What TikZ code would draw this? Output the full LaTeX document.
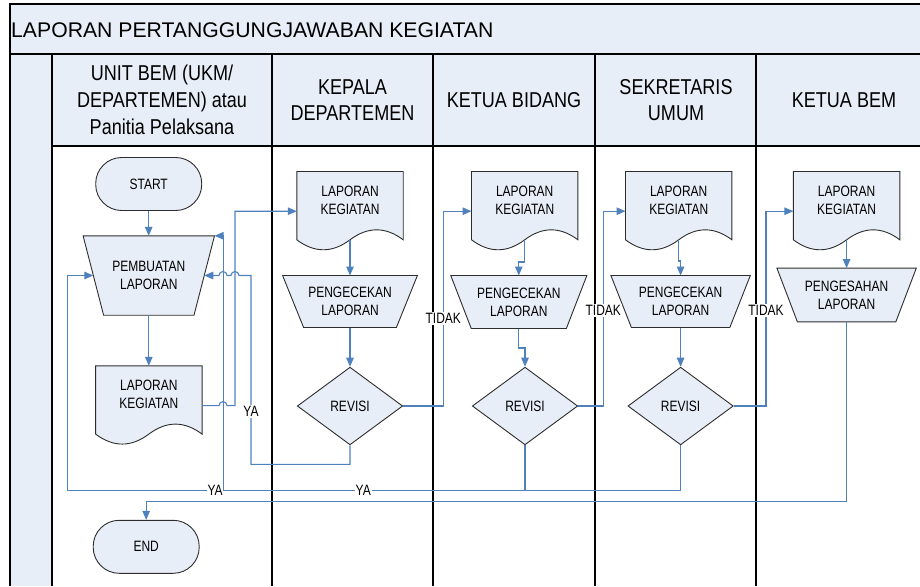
\documentclass[tikz,border=0pt]{standalone}
\usepackage{fontspec}
\setmainfont{Liberation Sans}
\newfontfamily\boxfam{Liberation Sans}[FakeStretch=0.8]
\newfontfamily\hdrfam{Liberation Sans}[FakeStretch=0.84]
\usetikzlibrary{shapes.geometric,arrows.meta,calc}
\pgfdeclarelayer{back}
\pgfdeclarelayer{shapes}
\pgfsetlayers{back,shapes,main}
\definecolor{fillblue}{RGB}{232,238,247}
\definecolor{connblue}{RGB}{79,129,189}
\definecolor{shapeline}{RGB}{45,45,45}
\newcommand\docshape[1]{%
  \filldraw[shp] (#1.north west) -- (#1.north east) -- ([yshift=-11.3pt]#1.south east)
    .. controls ([shift={(-17.67pt,2pt)}]#1.south east) and ([shift={(17.67pt,2pt)}]#1.south) .. ([yshift=-11.3pt]#1.south)
    .. controls ([shift={(-17.67pt,-24.6pt)}]#1.south) and ([shift={(17.67pt,-24.6pt)}]#1.south west) .. ([yshift=-11.3pt]#1.south west)
    -- cycle;}
\newcommand\manshape[2]{%
  \filldraw[shp] (#1.north west) -- (#1.north east) -- ([xshift=-#2pt]#1.south east) -- ([xshift=#2pt]#1.south west) -- cycle;}
\begin{document}
\begin{tikzpicture}[x=1pt,y=-1pt,
  shp/.style={fill=fillblue,draw=shapeline,line width=0.9pt},
  conn/.style={draw=connblue,line width=1.1pt,-{Triangle[length=9pt,width=7.5pt]}},
  boxfont/.style={font=\boxfam\fontsize{15}{18}\selectfont},
  box/.style={draw=none,inner sep=0pt,align=center,boxfont},
  docbox/.style={box,minimum width=106pt,minimum height=56.6pt},
  term/.style={shp,rounded corners=26pt,minimum width=106pt,minimum height=53pt,inner sep=0pt,boxfont},
  dia/.style={diamond,shp,minimum width=105.4pt,minimum height=77.7pt,inner sep=0pt,boxfont},
  lbl/.style={fill=white,inner sep=1pt,boxfont},
  hdr/.style={align=center,inner sep=0pt,font=\hdrfam\fontsize{21.5}{26.5}\selectfont},
  lane/.style={draw=black,line width=1.3pt}]
\useasboundingbox (0,0) rectangle (920,586);
\begin{pgfonlayer}{back}
  \fill[fillblue] (10,4) rectangle (920,146);
  \fill[fillblue] (10,146) rectangle (52,586);
  \draw[lane] (920,4) -- (10,4) -- (10,586);
  \draw[lane] (10,54) -- (920,54);
  \draw[lane] (52,146) -- (920,146);
  \foreach \xx in {52,272,433,595,756} \draw[lane] (\xx,54) -- (\xx,586);
\end{pgfonlayer}
% title and headers
\node[anchor=west,inner sep=0pt,font=\fontsize{21.2}{24}\selectfont] (title) at (11,30) {LAPORAN PERTANGGUNGJAWABAN KEGIATAN};
\node[hdr,font=\hdrfam\fontsize{21.5}{27}\selectfont] (h1) at (162,100) {UNIT BEM (UKM/\\DEPARTEMEN) atau\\Panitia Pelaksana};
\node[hdr] (h2) at (352.5,100) {KEPALA\\DEPARTEMEN};
\node[hdr] (h3) at (514,100) {KETUA BIDANG};
\node[hdr] (h4) at (676,100) {SEKRETARIS\\UMUM};
\node[hdr] (h5) at (844,100) {KETUA BEM};
% lane 1
\node[term] (start) at (148.7,184) {START};
\node[box,minimum width=131pt,minimum height=79pt] (pemb) at (148.8,275.5) {PEMBUATAN\\LAPORAN};
\node[docbox] (d1) at (148.85,394.3) {LAPORAN\\KEGIATAN};
\node[term] (end) at (146.2,546.8) {END};
% lane 2
\node[docbox] (d2) at (350,200) {LAPORAN\\KEGIATAN};
\node[box,minimum width=134.4pt,minimum height=51.6pt] (c2) at (350,301.5) {PENGECEKAN\\LAPORAN};
\node[dia] (r2) at (350,406) {REVISI};
% lane 3
\node[docbox] (d3) at (524.7,200) {LAPORAN\\KEGIATAN};
\node[box,minimum width=135.7pt,minimum height=52.6pt] (c3) at (518.8,302) {PENGECEKAN\\LAPORAN};
\node[dia] (r3) at (525,406) {REVISI};
% lane 4
\node[docbox] (d4) at (678.7,200) {LAPORAN\\KEGIATAN};
\node[box,minimum width=139pt,minimum height=51.6pt] (c4) at (680.6,301.5) {PENGECEKAN\\LAPORAN};
\node[dia] (r4) at (680.6,406) {REVISI};
% lane 5
\node[docbox] (d5) at (846.6,200) {LAPORAN\\KEGIATAN};
\node[box,minimum width=139pt,minimum height=53.4pt] (c5) at (846.6,295) {PENGESAHAN\\LAPORAN};
\begin{pgfonlayer}{shapes}
  \manshape{pemb}{20.5}
  \manshape{c2}{21}
  \manshape{c3}{20.5}
  \manshape{c4}{20.5}
  \manshape{c5}{20.5}
  \docshape{d1}
  \docshape{d2}
  \docshape{d3}
  \docshape{d4}
  \docshape{d5}
\end{pgfonlayer}
% connectors
\draw[conn] (start.south) -- (start.south |- pemb.north);
\draw[conn] (pemb.south) -- (pemb.south |- d1.north);
\draw[conn] ([yshift=-11.3pt]d1.east) -- (219,405.6) arc[start angle=180,end angle=360,radius=4] -- (235,405.6) -- (235,211.2) -- ([yshift=-11.2pt]d2.west);
\draw[conn] ([yshift=-11.3pt]d2.south) -- (c2.north);
\draw[conn] (c2.south) -- (r2.north);
\draw[conn] (r2.east) -- (443.3,406) -- node[lbl,pos=0.45](t1){TIDAK} (443.3,211.2) -- ([yshift=-11.2pt]d3.west);
\draw[conn] ([yshift=-11.3pt]d3.south) -- (524.7,262) -| (c3.north);
\draw[conn] (c3.south) -- (518.8,348) -| (r3.north);
\draw[conn] (r3.east) -- (603.3,406) -- node[lbl,pos=0.49](t2){TIDAK} (603.3,211.2) -- ([yshift=-11.2pt]d4.west);
\draw[conn] ([yshift=-11.3pt]d4.south) -- (678.7,261) -| (c4.north);
\draw[conn] (c4.south) -- (r4.north);
\draw[conn] (r4.east) -- (766,406) -- node[lbl,pos=0.49](t3){TIDAK} (766,211.2) -- ([yshift=-11.2pt]d5.west);
\draw[conn] ([yshift=-11.3pt]d5.south) -- (c5.north);
\draw[conn] (c5.south) -- (846.6,501.5) -| (end.north);
\draw[conn] (r2.south) -- (350,464.3) -- (251,464.3) -- node[lbl,pos=0.28](ya1){YA} (251,275.5) -- (239,275.5) arc[start angle=0,end angle=-180,radius=4] -- (227,275.5) arc[start angle=0,end angle=-180,radius=4] -- ([xshift=-10.25pt]pemb.east);
\draw[conn] (r3.south) -- (525,490.7) -- node[lbl,pos=0.677](ya2){YA} (67.3,490.7) |- ([xshift=10.25pt]pemb.west);
\draw[conn] (r4.south) -- (680.6,490.7) -- node[lbl,pos=0.694](ya3){YA} (223.3,490.7) |- (pemb.north east);
\end{tikzpicture}
\end{document}
